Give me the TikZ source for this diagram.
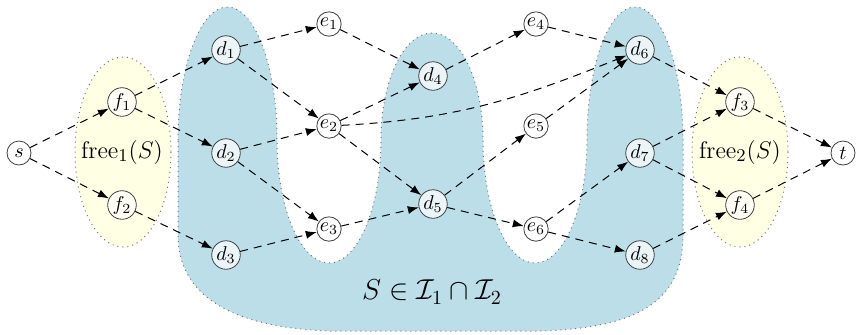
\documentclass[tikz,border=0pt]{standalone}
\usetikzlibrary{arrows.meta}
\definecolor{blobblue}{RGB}{188,222,233}
\definecolor{blobyellow}{RGB}{255,255,228}
\begin{document}
\begin{tikzpicture}[x=0.5pt,y=-0.5pt,
  vtx/.style={circle, draw=black!75, fill=white, fill opacity=0.7, text opacity=1,
    inner sep=0.5pt, minimum size=12pt, line width=0.4pt},
  arr/.style={-{Latex[length=5.5pt,width=4pt]}, dash pattern=on 4pt off 3pt, line width=0.5pt},
  blob/.style={draw=black!55, dotted, line width=0.5pt}]
\useasboundingbox (0,0) rectangle (857,334);
% free sets
\path[blob, fill=blobyellow] (123,152) ellipse [x radius=48, y radius=95];
\path[blob, fill=blobyellow] (740,152) ellipse [x radius=48, y radius=95];
% independent set region
\path[blob, fill=blobblue]
  (178,140) .. controls (178,66.6) and (200.2,7) .. (227.5,7)
  .. controls (254.8,7) and (277,66.6) .. (277,140)
  .. controls (277,207.9) and (300.3,263) .. (329,263)
  .. controls (357.7,263) and (381,207.9) .. (381,140)
  .. controls (381,80.9) and (403.8,33) .. (432,33)
  .. controls (460.2,33) and (483,80.9) .. (483,140)
  .. controls (483,207.9) and (506.3,263) .. (535,263)
  .. controls (563.7,263) and (587,207.9) .. (587,140)
  .. controls (587,66.6) and (608.5,7) .. (635,7)
  .. controls (661.5,7) and (683,66.6) .. (683,140) -- (683,235)
  .. controls (683,300) and (640,328) .. (540,331) -- (330,331)
  .. controls (240,328) and (178,300) .. (178,235) -- cycle;
\node[font=\fontsize{13}{15}\selectfont] (free1) at (122,152) {$\mathrm{free}_1(S)$};
\node[font=\fontsize{13}{15}\selectfont] (free2) at (740,152) {$\mathrm{free}_2(S)$};
\node[font=\fontsize{14}{16}\selectfont] (lab) at (432,292) {$S\in\mathcal{I}_1\cap\mathcal{I}_2$};
% vertices
\node[vtx] (s) at (19,153) {$s$};
\node[vtx] (f1) at (122,102) {$f_1$};
\node[vtx] (f2) at (122,205) {$f_2$};
\node[vtx] (d1) at (226,50) {$d_1$};
\node[vtx] (d2) at (226,153) {$d_2$};
\node[vtx] (d3) at (226,255) {$d_3$};
\node[vtx] (e1) at (329,24) {$e_1$};
\node[vtx] (e2) at (329,126) {$e_2$};
\node[vtx] (e3) at (329,229) {$e_3$};
\node[vtx] (d4) at (433,76) {$d_4$};
\node[vtx] (d5) at (433,204) {$d_5$};
\node[vtx] (e4) at (536,24) {$e_4$};
\node[vtx] (e5) at (536,126) {$e_5$};
\node[vtx] (e6) at (536,229) {$e_6$};
\node[vtx] (d6) at (640,50) {$d_6$};
\node[vtx] (d7) at (640,153) {$d_7$};
\node[vtx] (d8) at (640,255) {$d_8$};
\node[vtx] (f3) at (740,102) {$f_3$};
\node[vtx] (f4) at (740,205) {$f_4$};
\node[vtx] (t) at (843,153) {$t$};
% edges
\draw[arr] (s) -- (f1);
\draw[arr] (s) -- (f2);
\draw[arr] (f1) -- (d1);
\draw[arr] (f1) -- (d2);
\draw[arr] (f2) -- (d3);
\draw[arr] (d1) -- (e1);
\draw[arr] (d1) -- (e2);
\draw[arr] (d2) -- (e2);
\draw[arr] (d2) -- (e3);
\draw[arr] (d3) -- (e3);
\draw[arr] (e1) -- (d4);
\draw[arr] (e2) -- (d4);
\draw[arr] (e2) -- (d5);
\draw[arr] (e2) to[out=3,in=202] (d6);
\draw[arr] (e3) -- (d5);
\draw[arr] (d4) -- (e4);
\draw[arr] (d5) -- (e5);
\draw[arr] (d5) -- (e6);
\draw[arr] (e4) -- (d6);
\draw[arr] (e5) -- (d6);
\draw[arr] (e6) -- (d7);
\draw[arr] (e6) -- (d8);
\draw[arr] (d6) -- (f3);
\draw[arr] (d7) -- (f3);
\draw[arr] (d7) -- (f4);
\draw[arr] (d8) -- (f4);
\draw[arr] (f3) -- (t);
\draw[arr] (f4) -- (t);
\end{tikzpicture}
\end{document}
